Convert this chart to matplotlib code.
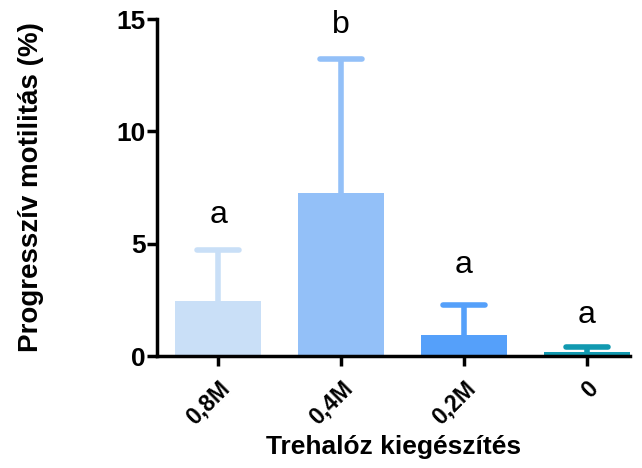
import matplotlib

matplotlib.use("Agg")
import matplotlib.pyplot as plt
import matplotlib.transforms as mtransforms
import numpy as np

groups = ["0,8M", "0,4M", "0,2M", "0"]
means = [2.45, 7.25, 0.93, 0.18]
sd_upper = [2.27, 5.95, 1.34, 0.22]
letters = ["a", "b", "a", "a"]
colors = ["#C9DFF7", "#93C0F8", "#55A0FA", "#1199B0"]

plt.rcParams["font.family"] = ["Liberation Sans", "DejaVu Sans"]

fig = plt.figure(figsize=(6.42, 4.68), dpi=100)
ax = fig.add_axes([0.2445, 0.2393, 0.7365, 0.7201])

x = np.arange(len(groups))
ax.bar(x, means, width=0.7, color=colors, zorder=2)
tops = np.array(means) + np.array(sd_upper)
cap_half = 0.17
ax.vlines(x, means, tops, colors=colors, linewidth=4, zorder=1)
ax.hlines(tops, x - cap_half, x + cap_half, colors=colors, linewidth=4,
          zorder=1, capstyle="round")

letter_y = [6.27, 14.73, 4.05, 1.82]
for xi, t, ly in zip(x, letters, letter_y):
    ax.text(xi, ly, t, ha="center", va="center", fontsize=23, clip_on=False)

ax.set_ylim(0, 15)
ax.set_xlim(-0.5, 3.35)
ax.set_yticks([0, 5, 10, 15])
ax.set_xticks(x)
ax.set_xticklabels(groups, rotation=45, ha="right", rotation_mode="anchor",
                   fontsize=16.5, fontweight="bold")
shift = mtransforms.ScaledTranslation(-6 / 100, -2 / 100, fig.dpi_scale_trans)
for lab in ax.get_xticklabels():
    lab.set_transform(lab.get_transform() + shift)
for lab in ax.get_yticklabels():
    lab.set_fontsize(19)
    lab.set_fontweight("bold")

ax.spines["top"].set_visible(False)
ax.spines["right"].set_visible(False)
ax.spines["left"].set_linewidth(2.5)
ax.spines["bottom"].set_linewidth(2.5)
ax.tick_params(axis="y", length=7, width=2.5, pad=1)
ax.tick_params(axis="x", length=7, width=2.5, pad=8)

ax.set_ylabel("Progresszív motilitás (%)", fontsize=20, fontweight="bold", labelpad=52)
ax.set_xlabel("Trehalóz kiegészítés", fontsize=19, fontweight="bold", labelpad=4)

fig.savefig("out.png", dpi=100)
